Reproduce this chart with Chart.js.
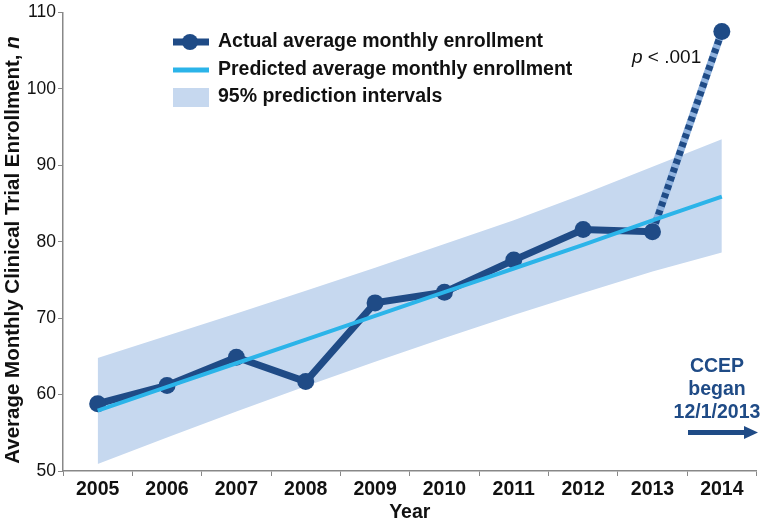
<!DOCTYPE html>
<html>
<head>
<meta charset="utf-8">
<script src="https://cdn.jsdelivr.net/npm/chart.js@4"></script>
<style>
  html, body { margin: 0; padding: 0; background: #fff; }
  canvas { display: block; }
</style>
</head>
<body>
<canvas id="enrollChart" width="765" height="524"></canvas>
<script>
// Données
const A_years = ["2005", "2006", "2007", "2008", "2009", "2010", "2011", "2012", "2013", "2014"];
const A_actual = [58.8, 61.2, 64.9, 61.7, 72.0, 73.4, 77.6, 81.6, 81.3, 107.5];
const A_predicted = [57.9, 61.0, 64.1, 67.2, 70.3, 73.4, 76.5, 79.6, 82.8, 85.9];
const A_upperPI = [64.8, 67.7, 70.6, 73.6, 76.6, 79.7, 82.8, 86.2, 89.8, 93.4];
const A_lowerPI = [50.9, 54.4, 57.8, 61.1, 64.3, 67.4, 70.4, 73.3, 76.1, 78.6];
const I_yMin = 50;
const I_yMax = 110;
const I_yStep = 10;
const I_dashFrom = 8; // segment 2013 -> 2014 en pointillés

const S_navy = "#1f4b86";
const S_cyan = "#2bb4e9";
const S_band = "#c6d8ef";
const S_stripe = "#8fb2de";
const S_font = "'Liberation Sans', Arial, Helvetica, sans-serif";
const S_bold = "bold 19.5px " + S_font;

// Bande claire sous le segment en pointillés
const A_stripe = A_actual.map((V_val, I_i) => (I_i >= I_dashFrom ? V_val : null));

// Légende et annotations dessinées sur le canvas
const O_overlayPlugin = {
  id: "overlay",
  afterDraw(O_chart) {
    const O_ctx = O_chart.ctx;
    O_ctx.save();

    // Titre de l'axe Y (avec n en italique)
    O_ctx.save();
    O_ctx.translate(13, 250);
    O_ctx.rotate(-Math.PI / 2);
    O_ctx.fillStyle = "#111";
    O_ctx.textBaseline = "middle";
    const S_main = "Average Monthly Clinical Trial Enrollment, ";
    O_ctx.font = "bold 20.5px " + S_font;
    const I_wMain = O_ctx.measureText(S_main).width;
    O_ctx.font = "bold italic 20.5px " + S_font;
    const I_wN = O_ctx.measureText("n").width;
    const I_start = -(I_wMain + I_wN) / 2;
    O_ctx.textAlign = "left";
    O_ctx.font = "bold 20.5px " + S_font;
    O_ctx.fillText(S_main, I_start, 0);
    O_ctx.font = "bold italic 20.5px " + S_font;
    O_ctx.fillText("n", I_start + I_wMain, 0);
    O_ctx.restore();

    // Légende
    O_ctx.lineCap = "butt";
    O_ctx.strokeStyle = S_navy;
    O_ctx.lineWidth = 7;
    O_ctx.beginPath();
    O_ctx.moveTo(173, 42);
    O_ctx.lineTo(209, 42);
    O_ctx.stroke();
    O_ctx.fillStyle = S_navy;
    O_ctx.beginPath();
    O_ctx.arc(190, 42, 8, 0, Math.PI * 2);
    O_ctx.fill();

    O_ctx.strokeStyle = S_cyan;
    O_ctx.lineWidth = 5;
    O_ctx.beginPath();
    O_ctx.moveTo(173, 70);
    O_ctx.lineTo(209, 70);
    O_ctx.stroke();

    O_ctx.fillStyle = S_band;
    O_ctx.fillRect(173, 88, 36, 19);

    O_ctx.fillStyle = "#111";
    O_ctx.font = S_bold;
    O_ctx.textAlign = "left";
    O_ctx.textBaseline = "middle";
    O_ctx.fillText("Actual average monthly enrollment", 218, 42);
    O_ctx.fillText("Predicted average monthly enrollment", 218, 70);
    O_ctx.fillText("95% prediction intervals", 218, 97);

    // p < .001
    O_ctx.font = "italic 19px " + S_font;
    const I_wP = O_ctx.measureText("p").width;
    O_ctx.fillText("p", 632, 58);
    O_ctx.font = "19px " + S_font;
    O_ctx.fillText(" < .001", 632 + I_wP, 58);

    // CCEP began 12/1/2013
    O_ctx.fillStyle = S_navy;
    O_ctx.font = S_bold;
    O_ctx.textAlign = "center";
    O_ctx.fillText("CCEP", 717, 367);
    O_ctx.fillText("began", 717, 390);
    O_ctx.fillText("12/1/2013", 717, 413);

    // Flèche
    O_ctx.fillRect(688, 430, 58, 5);
    O_ctx.beginPath();
    O_ctx.moveTo(744, 426);
    O_ctx.lineTo(758, 432.5);
    O_ctx.lineTo(744, 439);
    O_ctx.closePath();
    O_ctx.fill();

    O_ctx.restore();
  },
};

const O_canvas = document.getElementById("enrollChart");
const O_chart = new Chart(O_canvas.getContext("2d"), {
  type: "line",
  data: {
    labels: A_years,
    datasets: [
      {
        label: "Predicted average monthly enrollment",
        data: A_predicted,
        borderColor: S_cyan,
        borderWidth: 4,
        pointRadius: 0,
        fill: false,
        tension: 0,
      },
      {
        label: "Actual average monthly enrollment",
        data: A_actual,
        borderColor: S_navy,
        backgroundColor: S_navy,
        borderWidth: 7,
        pointRadius: 8.5,
        pointBorderWidth: 0,
        pointBackgroundColor: S_navy,
        fill: false,
        tension: 0,
        segment: {
          borderDash: (O_ctx) => (O_ctx.p0DataIndex >= I_dashFrom ? [5, 4] : undefined),
        },
      },
      {
        label: "stripe",
        data: A_stripe,
        borderColor: S_stripe,
        borderWidth: 7.5,
        pointRadius: 0,
        fill: false,
        spanGaps: false,
      },
      {
        label: "upper",
        data: A_upperPI,
        borderWidth: 0,
        borderColor: "rgba(0,0,0,0)",
        backgroundColor: S_band,
        pointRadius: 0,
        fill: "+1",
      },
      {
        label: "lower",
        data: A_lowerPI,
        borderWidth: 0,
        borderColor: "rgba(0,0,0,0)",
        pointRadius: 0,
        fill: false,
      },
    ],
  },
  options: {
    responsive: false,
    animation: false,
    devicePixelRatio: 1,
    layout: {
      padding: { top: 11, right: 4, left: 0, bottom: 0 },
    },
    plugins: {
      legend: { display: false },
      tooltip: { enabled: false },
    },
    scales: {
      x: {
        type: "category",
        offset: true,
        grid: {
          offset: true,
          drawOnChartArea: false,
          drawTicks: true,
          tickLength: 5,
          color: "#888",
        },
        border: { color: "#888", width: 1.5 },
        ticks: {
          color: "#111",
          font: { family: S_font, size: 19.5, weight: "bold" },
          padding: 2,
          maxRotation: 0,
          autoSkip: false,
        },
        title: {
          display: true,
          text: "Year",
          color: "#111",
          font: { family: S_font, size: 19.5, weight: "bold" },
          padding: { top: 0, bottom: 0 },
        },
        afterFit(O_scale) {
          O_scale.height = 53;
        },
      },
      y: {
        min: I_yMin,
        max: I_yMax,
        grid: {
          drawOnChartArea: false,
          drawTicks: true,
          tickLength: 5,
          color: "#888",
        },
        border: { color: "#888", width: 1.5 },
        ticks: {
          stepSize: I_yStep,
          color: "#111",
          font: { family: S_font, size: 17.5 },
          padding: 2,
        },
        afterFit(O_scale) {
          O_scale.width = 63;
        },
      },
    },
  },
  plugins: [O_overlayPlugin],
});
</script>
</body>
</html>
